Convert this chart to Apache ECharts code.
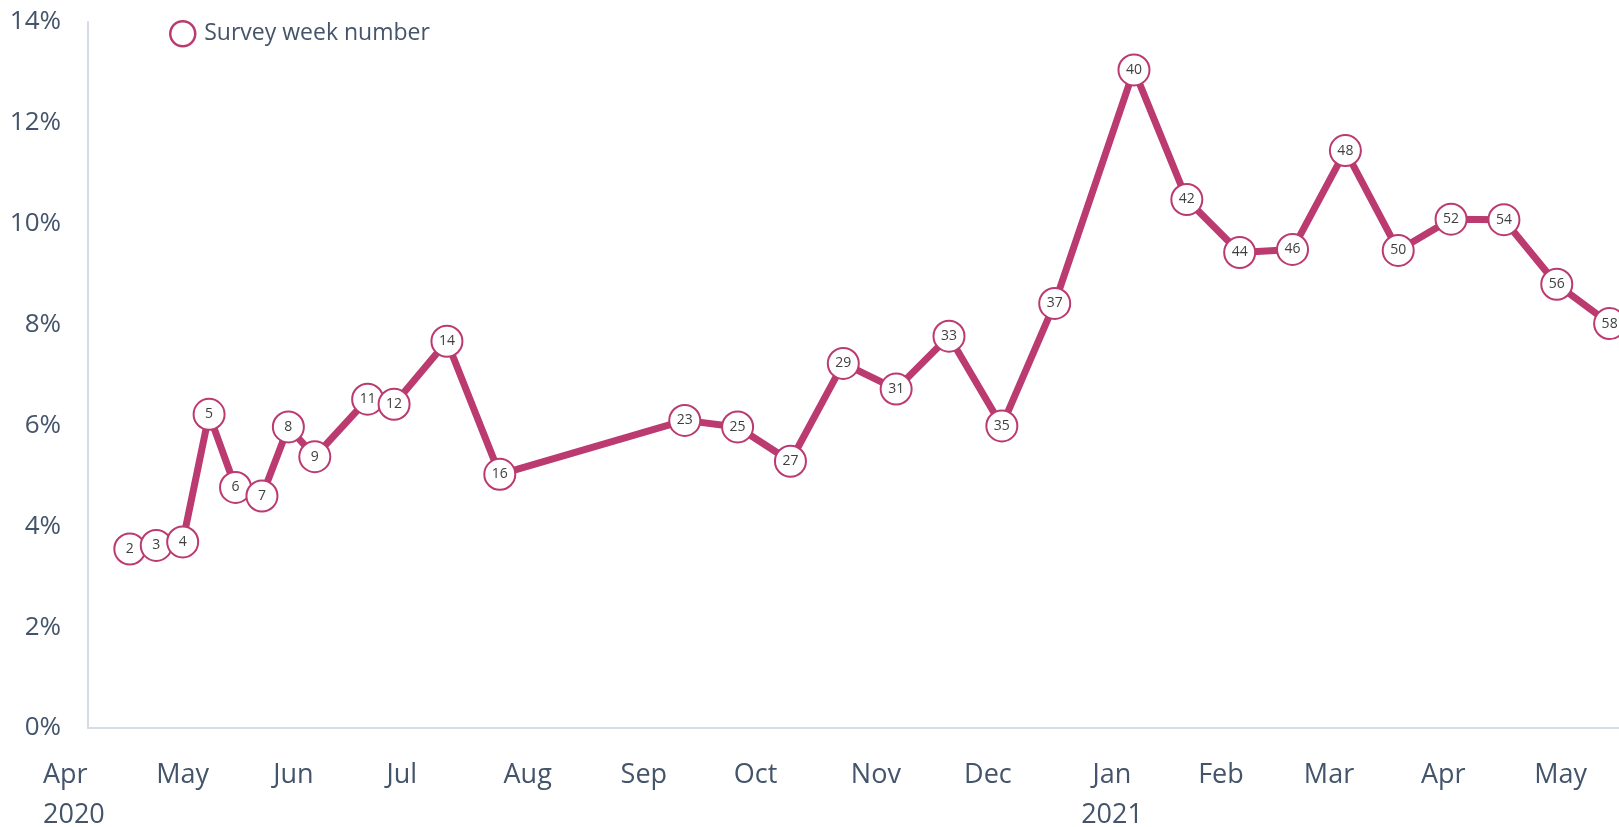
<!DOCTYPE html>
<html>
<head>
<meta charset="utf-8">
<script src="https://cdn.jsdelivr.net/npm/echarts@6/dist/echarts.min.js"></script>
<style>
html,body{margin:0;padding:0;background:#fff;}
#chart{width:1619px;height:827px;}
</style>
</head>
<body>
<div id="chart"></div>
<script>
// ---- data ----
const weeks = [2,3,4,5,6,7,8,9,11,12,14,16,23,25,27,29,31,33,35,37,40,42,44,46,48,50,52,54,56,58];
const surveyDates = ['2020-04-24','2020-05-01','2020-05-08','2020-05-15','2020-05-22','2020-05-29',
  '2020-06-05','2020-06-12','2020-06-26','2020-07-03','2020-07-17','2020-07-31','2020-09-18',
  '2020-10-02','2020-10-16','2020-10-30','2020-11-13','2020-11-27','2020-12-11','2020-12-25',
  '2021-01-15','2021-01-29','2021-02-12','2021-02-26','2021-03-12','2021-03-26','2021-04-09',
  '2021-04-23','2021-05-07','2021-05-21'];
const values = [3.55,3.62,3.69,6.22,4.77,4.60,5.97,5.38,6.52,6.42,7.67,5.03,6.10,5.97,5.29,7.23,
  6.72,7.77,5.99,8.42,13.05,10.48,9.43,9.49,11.45,9.47,10.09,10.08,8.80,8.02];
const tickDates = ['2020-04-01','2020-05-01','2020-06-01','2020-07-01','2020-08-01','2020-09-01',
  '2020-10-01','2020-11-01','2020-12-01','2021-01-01','2021-02-01','2021-03-01','2021-04-01','2021-05-01'];
const tickLabels = ['Apr\n2020','May','Jun','Jul','Aug','Sep','Oct','Nov','Dec','Jan\n2021','Feb','Mar','Apr','May'];
const seriesName = 'Survey week number';

// ---- layout / style ----
const LINE = '#BB3A70';
const TEXT = '#44546A';
const AXIS = '#D6DCE5';
const FONT = '"Open Sans", "Noto Sans", sans-serif';
const W = 1619;
const PX_PER_DAY = 3.775;
const LABEL_LEFT = 43;     // pixel of first month tick
const DATA_LEFT = 88;      // pixel of y axis
const DAY = 86400000;

function ts(s){ const p = s.split('-').map(Number); return Date.UTC(p[0], p[1]-1, p[2]); }
const t0 = ts(tickDates[0]);
const tMax = t0 + (W - LABEL_LEFT) / PX_PER_DAY * DAY;
const tMinData = t0 + (DATA_LEFT - LABEL_LEFT) / PX_PER_DAY * DAY;
const tickTs = tickDates.map(ts);

const chart = echarts.init(document.getElementById('chart'), null, {renderer:'canvas'});
chart.setOption({
  animation: false,
  backgroundColor: '#fff',
  textStyle: { fontFamily: FONT },
  grid: [
    { left: DATA_LEFT, right: 0, top: 22, bottom: 99, outerBoundsMode: 'none', containLabel: false },
    { left: LABEL_LEFT, right: 0, top: 22, bottom: 99, outerBoundsMode: 'none', containLabel: false }
  ],
  legend: {
    left: 164, top: 15,
    itemWidth: 25, itemHeight: 25,
    data: [{ name: seriesName, icon: 'circle',
      itemStyle: { color: '#fff', borderColor: LINE, borderWidth: 2.5 } }],
    textStyle: { fontFamily: FONT, fontSize: 23, color: TEXT, padding: [0,0,0,4] }
  },
  xAxis: [
    { type: 'value', gridIndex: 0, min: tMinData, max: tMax, scale: true,
      axisLine: { show: true, lineStyle: { color: AXIS, width: 2 } },
      axisTick: { show: false }, axisLabel: { show: false }, splitLine: { show: false } },
    { type: 'value', gridIndex: 1, min: t0, max: tMax, scale: true,
      axisLine: { show: false }, axisTick: { show: false }, splitLine: { show: false },
      axisLabel: {
        show: true, customValues: tickTs, align: 'left', margin: 27,
        fontFamily: FONT, fontSize: 27, lineHeight: 40, color: TEXT,
        showMinLabel: true, showMaxLabel: true,
        rich: {
          c: { align: 'center', fontFamily: FONT, fontSize: 27, lineHeight: 40, color: TEXT }
        },
        formatter: function (v) {
          const i = tickTs.indexOf(v);
          if (i < 0) return '';
          const lab = tickLabels[i];
          if (i > 0 && lab.indexOf('\n') >= 0) {
            return lab.split('\n').map(s => '{c|' + s + '}').join('\n');
          }
          return lab;
        }
      } }
  ],
  yAxis: [
    { type: 'value', gridIndex: 0, min: 0, max: 14, interval: 2,
      axisLine: { show: true, lineStyle: { color: AXIS, width: 2 } },
      axisTick: { show: false }, splitLine: { show: false },
      axisLabel: { margin: 27, fontFamily: FONT, fontSize: 26, color: TEXT, formatter: '{value}%' } },
    { type: 'value', gridIndex: 1, min: 0, max: 14, show: false }
  ],
  series: [{
    name: seriesName, type: 'line', xAxisIndex: 0, yAxisIndex: 0,
    data: surveyDates.map((d, i) => [ts(d), values[i]]),
    symbol: 'circle', symbolSize: 31,
    itemStyle: { color: '#fff', borderColor: LINE, borderWidth: 2 },
    lineStyle: { color: LINE, width: 7 },
    label: { show: true, position: 'inside', fontFamily: FONT, fontSize: 14, color: '#404040',
      formatter: p => String(weeks[p.dataIndex]) },
    emphasis: { disabled: true },
    z: 3
  }]
});
</script>
</body>
</html>
